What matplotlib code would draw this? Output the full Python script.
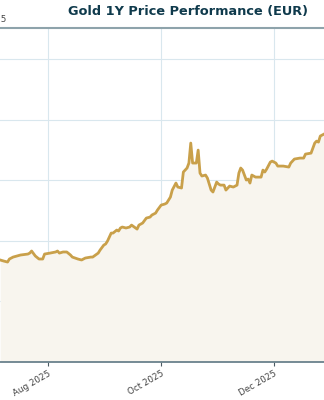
import numpy as np
import pandas as pd
import matplotlib
matplotlib.use("Agg")
import matplotlib.pyplot as plt
import matplotlib.dates as mdates

# gold price in EUR per ounce
dates = pd.to_datetime([
    "2025-07-06", "2025-07-08", "2025-07-10", "2025-07-11", "2025-07-13",
    "2025-07-17", "2025-07-21", "2025-07-22", "2025-07-23", "2025-07-25",
    "2025-07-27", "2025-07-29", "2025-07-30", "2025-08-02", "2025-08-05",
    "2025-08-06", "2025-08-07", "2025-08-09", "2025-08-11", "2025-08-13",
    "2025-08-14", "2025-08-17", "2025-08-19", "2025-08-21", "2025-08-24",
    "2025-08-25", "2025-08-28", "2025-08-29", "2025-08-31", "2025-09-01",
    "2025-09-02", "2025-09-04", "2025-09-05", "2025-09-07", "2025-09-08",
    "2025-09-09", "2025-09-10", "2025-09-12", "2025-09-14", "2025-09-15",
    "2025-09-18", "2025-09-19", "2025-09-21", "2025-09-23", "2025-09-25",
    "2025-09-26", "2025-09-28", "2025-09-29", "2025-10-01", "2025-10-03",
    "2025-10-04", "2025-10-06", "2025-10-07", "2025-10-09", "2025-10-10",
    "2025-10-12", "2025-10-13", "2025-10-15", "2025-10-16", "2025-10-17",
    "2025-10-18", "2025-10-20", "2025-10-21", "2025-10-22", "2025-10-23",
    "2025-10-25", "2025-10-26", "2025-10-28", "2025-10-29", "2025-10-31",
    "2025-11-01", "2025-11-02", "2025-11-04", "2025-11-05", "2025-11-07",
    "2025-11-09", "2025-11-11", "2025-11-12", "2025-11-13", "2025-11-14",
    "2025-11-16", "2025-11-17", "2025-11-18", "2025-11-19", "2025-11-21",
    "2025-11-24", "2025-11-25", "2025-11-26", "2025-11-27", "2025-11-29",
    "2025-11-30", "2025-12-02", "2025-12-03", "2025-12-06", "2025-12-09",
    "2025-12-10", "2025-12-12", "2025-12-15", "2025-12-17", "2025-12-18",
    "2025-12-21", "2025-12-23", "2025-12-24", "2025-12-25", "2025-12-26",
    "2025-12-28",
])
prices = [
    2842, 2833, 2825, 2850, 2866, 2883, 2891, 2899, 2916, 2875,
    2850, 2850, 2891, 2899, 2908, 2916, 2899, 2908, 2908, 2883,
    2866, 2850, 2842, 2858, 2866, 2866, 2899, 2924, 2965, 2974,
    2998, 3064, 3064, 3089, 3081, 3106, 3114, 3106, 3114, 3130,
    3097, 3130, 3147, 3188, 3196, 3213, 3229, 3254, 3295, 3304,
    3312, 3361, 3419, 3477, 3444, 3436, 3568, 3601, 3642, 3807,
    3642, 3642, 3749, 3559, 3535, 3543, 3518, 3419, 3403, 3485,
    3469, 3460, 3460, 3419, 3452, 3444, 3460, 3559, 3601, 3584,
    3502, 3510, 3477, 3543, 3526, 3526, 3584, 3568, 3592, 3650,
    3658, 3642, 3617, 3617, 3609, 3642, 3675, 3683, 3683, 3716,
    3724, 3807, 3823, 3815, 3865, 3881,
]
xticks = pd.to_datetime(["2025-08-01", "2025-10-01", "2025-12-01"])
yticks = [2000, 2500, 3000, 3500, 4000, 4500]

GOLD = "#c9a04a"; FILL = "#f8f5ee"; GRID = "#d9e7ee"; INK = "#0f3a4c"

fig = plt.figure(figsize=(3.24, 4.0), dpi=100)
ax = fig.add_axes([0, 0.095, 1, 0.836])

ax.fill_between(dates, prices, 2000, color=FILL, lw=0)
ax.plot(dates, prices, color=GOLD, lw=2.0, solid_joinstyle="round")

ax.set_xlim(pd.Timestamp("2025-07-05 22:00"), pd.Timestamp("2025-12-28 00:00"))
ax.set_ylim(2000, 4760)
ax.set_xticks(xticks)
ax.xaxis.set_major_formatter(mdates.DateFormatter("%b %Y"))
ax.set_yticks(yticks)
ax.set_yticklabels([])
ax.tick_params(axis="y", length=0)
ax.tick_params(axis="x", length=3, width=0.8, color="#4a5a62",
               labelsize=6.3, labelcolor="#444444", pad=2)
for lab in ax.get_xticklabels():
    lab.set_rotation(30)
    lab.set_ha("right")
    lab.set_rotation_mode("anchor")

ax.grid(True, color=GRID, lw=0.8)
ax.set_axisbelow(True)
for s in ("left", "right"):
    ax.spines[s].set_visible(False)
ax.spines["top"].set_color("#8ea3ab")
ax.spines["top"].set_linewidth(1.5)
ax.spines["bottom"].set_color("#5e7884")
ax.spines["bottom"].set_linewidth(1.2)

fig.text(187.5 / 324, 1 - 12 / 400, "Gold 1Y Price Performance (EUR)",
         ha="center", va="center", fontsize=9.3, fontweight="bold", color=INK)
# sliver of the y label that the crop cuts off on the left
fig.text(7 / 324, 1 - 20 / 400, "4762.5", ha="right", va="center",
         fontsize=6.3, color="#444444")

fig.savefig("out.png", dpi=100)
